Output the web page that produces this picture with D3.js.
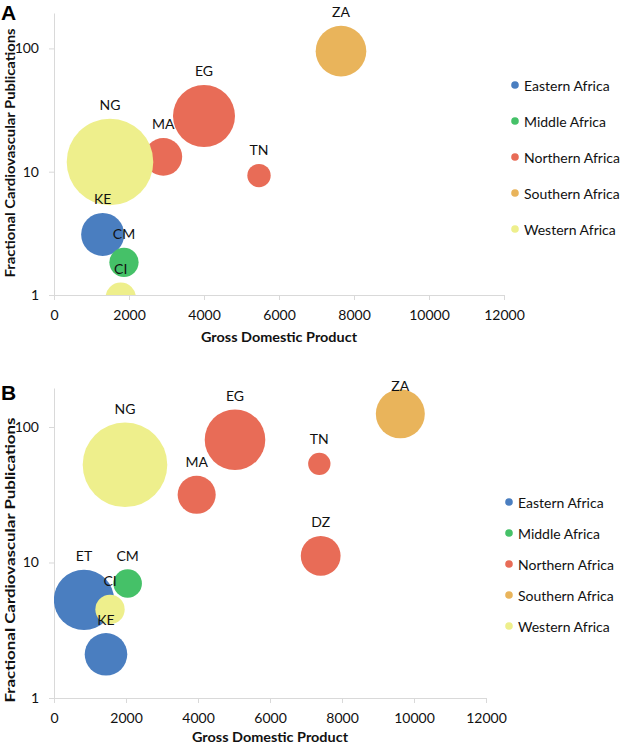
<!DOCTYPE html>
<html>
<head>
<meta charset="utf-8">
<script src="https://cdn.jsdelivr.net/npm/d3@7"></script>
<style>
  body { margin: 0; background: #fff; }
  svg { display: block; }
</style>
</head>
<body>
<script>
// regions (legend order = series draw order)
var regions = ["Eastern Africa", "Middle Africa", "Northern Africa", "Southern Africa", "Western Africa"];
var regionColors = ["#4a7ec0", "#45c168", "#e86c57", "#e9b45b", "#eeef8c"];

var xTicks = [0, 2000, 4000, 6000, 8000, 10000, 12000];
var yTicks = [1, 10, 100];

// panel A
var codesA  = ["KE", "CM", "EG", "MA", "TN", "ZA", "NG", "CI"];
var regionA = ["Eastern Africa", "Middle Africa", "Northern Africa", "Northern Africa", "Northern Africa", "Southern Africa", "Western Africa", "Western Africa"];
var gdpA    = [1298, 1866, 4000, 2915, 5467, 7653, 1493, 1779];
var pubsA   = [3.1, 1.84, 28.3, 13.2, 9.3, 95, 12, 0.95];
var popA    = [39, 18, 81, 30, 11.5, 54, 158, 19.5];

// panel B
var codesB  = ["ET", "KE", "CM", "EG", "MA", "TN", "DZ", "ZA", "NG", "CI"];
var regionB = ["Eastern Africa", "Eastern Africa", "Middle Africa", "Northern Africa", "Northern Africa", "Northern Africa", "Northern Africa", "Southern Africa", "Western Africa", "Western Africa"];
var gdpB    = [833, 1444, 2046, 5028, 3963, 7370, 7408, 9620, 1972, 1556];
var pubsB   = [5.3, 2.1, 7.0, 80.5, 31.6, 53.5, 11.2, 125, 52.6, 4.5];
var popB    = [80, 40, 18, 81, 32, 11, 35, 53, 158, 19];

var W = 622, H = 745;
var font = "Lato, 'Open Sans', sans-serif";
var axisColor = "#d9d9d9";

var svg = d3.select("body").append("svg")
  .attr("width", W)
  .attr("height", H);

var color = d3.scaleOrdinal().domain(regions).range(regionColors);

function draw_panel(p) {
  var data = p.codes.map(function(c, i) {
    return {code: c, region: p.region[i], gdp: p.gdp[i], pubs: p.pubs[i], pop: p.pop[i]};
  });
  // series order like excel: by region
  data.sort(function(a, b) { return regions.indexOf(a.region) - regions.indexOf(b.region); });

  var x = d3.scaleLinear().domain([0, 12000]).range([p.x0, p.x1]);
  var y = d3.scaleLog().domain([1, p.yMax]).range([p.yBot, p.yTop]);
  var r = d3.scaleSqrt().domain([0, d3.max(p.pop)]).range([0, p.rMax]);

  var g = svg.append("g");

  g.append("clipPath").attr("id", "clip" + p.name)
    .append("rect")
    .attr("x", p.x0).attr("y", p.yTop)
    .attr("width", p.x1 - p.x0).attr("height", p.yBot - p.yTop);

  // axes
  var xAxis = d3.axisBottom(x).tickValues(xTicks).tickFormat(d3.format("d")).tickSize(5).tickSizeOuter(0).tickPadding(10);
  var yAxis = d3.axisLeft(y).tickValues(yTicks).tickFormat(d3.format("d")).tickSize(5).tickSizeOuter(0).tickPadding(10);

  var gx = g.append("g").attr("transform", "translate(0," + p.yBot + ")").call(xAxis);
  var gy = g.append("g").attr("transform", "translate(" + p.x0 + ",0)").call(yAxis);
  [gx, gy].forEach(function(a) {
    a.select(".domain").attr("stroke", axisColor);
    a.selectAll(".tick line").attr("stroke", axisColor);
    a.selectAll(".tick text").attr("fill", "#111").style("font-family", font).style("font-size", "14px");
  });

  // bubbles
  g.append("g").attr("clip-path", "url(#clip" + p.name + ")")
    .selectAll("circle")
    .data(data)
    .enter().append("circle")
    .attr("cx", function(d) { return x(d.gdp); })
    .attr("cy", function(d) { return y(d.pubs); })
    .attr("r", function(d) { return r(d.pop); })
    .attr("fill", function(d) { return color(d.region); });

  // labels above the bubbles
  g.selectAll(".lbl")
    .data(data)
    .enter().append("text")
    .attr("class", "lbl")
    .attr("x", function(d) { return x(d.gdp); })
    .attr("y", function(d) { return Math.max(y(d.pubs) - r(d.pop) - 14, p.yTop - 3); })
    .attr("text-anchor", "middle")
    .attr("dominant-baseline", "central")
    .style("font-family", font)
    .style("font-size", "14px")
    .attr("fill", "#111")
    .text(function(d) { return d.code; });

  // legend
  var leg = g.selectAll(".leg")
    .data(regions)
    .enter().append("g")
    .attr("transform", function(d, i) { return "translate(" + p.legX + "," + (p.legY + i * p.legStep) + ")"; });
  leg.append("circle").attr("r", 3.8).attr("fill", function(d) { return color(d); });
  leg.append("text")
    .attr("x", 9)
    .attr("dominant-baseline", "central")
    .style("font-family", font)
    .style("font-size", "14px")
    .attr("fill", "#111")
    .text(function(d) { return d; });

  // titles
  g.append("text")
    .attr("x", (p.x0 + p.x1) / 2)
    .attr("y", p.xTitleY)
    .attr("text-anchor", "middle")
    .attr("dominant-baseline", "central")
    .attr("textLength", 156)
    .attr("lengthAdjust", "spacingAndGlyphs")
    .style("font-family", font)
    .style("font-weight", "bold")
    .style("font-size", "14px")
    .attr("fill", "#111")
    .text("Gross Domestic Product");

  g.append("text")
    .attr("transform", "translate(" + p.yTitleX + "," + p.yTitleY + ") rotate(-90)")
    .attr("text-anchor", "middle")
    .attr("dominant-baseline", "central")
    .attr("textLength", p.yTitleLen)
    .attr("lengthAdjust", "spacingAndGlyphs")
    .style("font-family", font)
    .style("font-weight", "bold")
    .style("font-size", "14px")
    .attr("fill", "#111")
    .text("Fractional Cardiovascular Publications");

  // panel letter
  g.append("text")
    .attr("x", 1)
    .attr("y", p.letterY)
    .style("font-family", "'Liberation Sans', Arial, sans-serif")
    .style("font-weight", "bold")
    .style("font-size", "21px")
    .attr("fill", "#000")
    .text(p.name);
}

draw_panel({
  name: "A", codes: codesA, region: regionA, gdp: gdpA, pubs: pubsA, pop: popA,
  x0: 54, x1: 504, yTop: 13, yBot: 295, yMax: 193.7, rMax: 43.3,
  legX: 515, legY: 85, legStep: 36,
  xTitleY: 336, yTitleX: 9, yTitleY: 153, yTitleLen: 249, letterY: 20
});

draw_panel({
  name: "B", codes: codesB, region: regionB, gdp: gdpB, pubs: pubsB, pop: popB,
  x0: 54, x1: 486, yTop: 388, yBot: 698, yMax: 194, rMax: 42.3,
  legX: 509, legY: 502, legStep: 31,
  xTitleY: 736, yTitleX: 9, yTitleY: 560, yTitleLen: 285, letterY: 400
});
</script>
</body>
</html>
